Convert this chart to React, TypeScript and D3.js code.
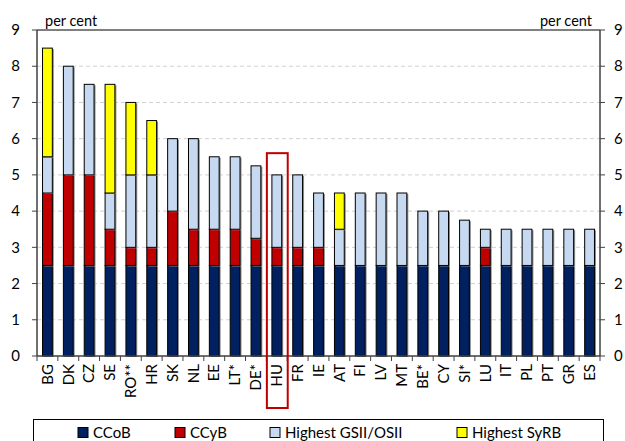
import * as d3 from 'd3';
import React from 'react';

// countries, sorted by total buffer requirement
const countries = ['BG', 'DK', 'CZ', 'SE', 'RO**', 'HR', 'SK', 'NL', 'EE', 'LT*', 'DE*', 'HU', 'FR', 'IE', 'AT', 'FI', 'LV', 'MT', 'BE*', 'CY', 'SI*', 'LU', 'IT', 'PL', 'PT', 'GR', 'ES'];
const ccob = [2.5, 2.5, 2.5, 2.5, 2.5, 2.5, 2.5, 2.5, 2.5, 2.5, 2.5, 2.5, 2.5, 2.5, 2.5, 2.5, 2.5, 2.5, 2.5, 2.5, 2.5, 2.5, 2.5, 2.5, 2.5, 2.5, 2.5];
const ccyb = [2, 2.5, 2.5, 1, 0.5, 0.5, 1.5, 1, 1, 1, 0.75, 0.5, 0.5, 0.5, 0, 0, 0, 0, 0, 0, 0, 0.5, 0, 0, 0, 0, 0];
const gsii = [1, 3, 2.5, 1, 2, 2, 2, 2.5, 2, 2, 2, 2, 2, 1.5, 1, 2, 2, 2, 1.5, 1.5, 1.25, 0.5, 1, 1, 1, 1, 1];
const syrb = [3, 0, 0, 3, 2, 1.5, 0, 0, 0, 0, 0, 0, 0, 0, 1, 0, 0, 0, 0, 0, 0, 0, 0, 0, 0, 0, 0];
const yTicks = [0, 1, 2, 3, 4, 5, 6, 7, 8, 9];
const highlighted = 'HU';

const seriesNames = ['CCoB', 'CCyB', 'Highest GSII/OSII', 'Highest SyRB'];
const colors = ['#002060', '#C00000', '#C6D9F1', '#FFFF00'];

const width = 625;
const height = 441;
const margin = { top: 30, right: 25, bottom: 85, left: 37 };
const font = 'Lato, "Open Sans", sans-serif';

export default function App() {
  const rows = countries.map((c, i) => ({ country: c, s0: ccob[i], s1: ccyb[i], s2: gsii[i], s3: syrb[i] }));
  const stacked = d3.stack<any>().keys(['s0', 's1', 's2', 's3'])(rows);

  const x = d3.scaleBand().domain(countries).range([margin.left, width - margin.right]).paddingInner(0.53).paddingOuter(0.265);
  const xb = d3.scaleBand().domain(countries).range([margin.left, width - margin.right]);
  const y = d3.scaleLinear().domain([0, 9]).range([height - margin.bottom, margin.top]);

  const x0 = margin.left;
  const x1 = width - margin.right;
  const y0 = y(0);

  const hx = xb(highlighted)!;

  return (
    <svg width={width} height={height} style={{ position: 'absolute', left: 0, top: 0, background: '#fff' }} fontFamily={font}>
      {/* gridlines */}
      {yTicks.filter((t) => t > 0 && t < 9).map((t) => (
        <line key={t} x1={x0} x2={x1} y1={y(t)} y2={y(t)} stroke="#d0d0d0" strokeDasharray="4,3" />
      ))}
      {/* bars */}
      {stacked.map((layer, li) => (
        <g key={li}>
          {layer.map((d, i) => {
            const h = y(d[0]) - y(d[1]);
            if (h <= 0) return null;
            return (
              <g key={i}>
                <rect x={x(countries[i])! + 1.5} y={y(d[1]) + 1} width={x.bandwidth()} height={h} fill="#8c8c8c" />
                <rect x={x(countries[i])!} y={y(d[1])} width={x.bandwidth()} height={h} fill={colors[li]} stroke="#000" strokeWidth={1} />
              </g>
            );
          })}
        </g>
      ))}
      {/* frame */}
      <line x1={x0} x2={x1} y1={margin.top} y2={margin.top} stroke="#000" />
      <line x1={x0} x2={x0} y1={margin.top} y2={y0} stroke="#404040" strokeWidth={1.5} />
      <line x1={x1} x2={x1} y1={margin.top} y2={y0} stroke="#404040" strokeWidth={1.5} />
      <line x1={x0} x2={x1} y1={y0} y2={y0} stroke="#404040" strokeWidth={1.5} />
      {/* y ticks */}
      {yTicks.map((t) => (
        <g key={t}>
          <line x1={x0 - 5} x2={x0} y1={y(t)} y2={y(t)} stroke="#404040" />
          <line x1={x1} x2={x1 + 5} y1={y(t)} y2={y(t)} stroke="#404040" />
          <text x={20} y={y(t)} dy="0.35em" textAnchor="end" fontSize={15} fill="#000">{t}</text>
          <text x={614} y={y(t)} dy="0.35em" textAnchor="start" fontSize={15} fill="#000">{t}</text>
        </g>
      ))}
      <text x={45} y={26} fontSize={14.5} fill="#000">per cent</text>
      <text x={592} y={26} fontSize={14.5} textAnchor="end" fill="#000">per cent</text>
      {/* x ticks & labels */}
      {countries.map((c) => (
        <g key={c}>
          <line x1={xb(c)!} x2={xb(c)!} y1={y0} y2={y0 + 5} stroke="#404040" />
          <text transform={`translate(${xb(c)! + xb.bandwidth() / 2},${y0 + 8}) rotate(-90)`} dy="0.35em" textAnchor="end" fontSize={15} fill="#000">{c}</text>
        </g>
      ))}
      <line x1={x1} x2={x1} y1={y0} y2={y0 + 5} stroke="#404040" />
      {/* highlight */}
      <rect x={hx + 0.5} y={y(5.6)} width={xb.bandwidth()} height={y0 - y(5.6) + 52} fill="none" stroke="#C00000" strokeWidth={2} />
      {/* legend */}
      <rect x={33.5} y={419.5} width={570} height={30} fill="none" stroke="#000" />
      {seriesNames.map((s, i) => {
        const lx = [78, 175, 270, 457][i];
        return (
          <g key={s}>
            <rect x={lx} y={427.5} width={10} height={10} fill={colors[i]} stroke="#000" />
            <text x={lx + 15} y={438} fontSize={15} fill="#000">{s}</text>
          </g>
        );
      })}
    </svg>
  );
}
